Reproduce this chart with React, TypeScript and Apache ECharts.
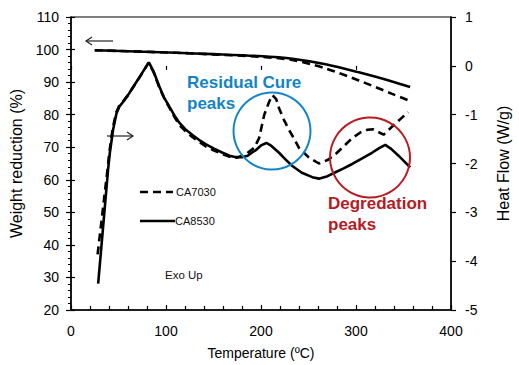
import React, { useEffect, useRef } from "react";
import * as echarts from "echarts";

const FONT = '"Liberation Sans", Arial, sans-serif';

// Weight curves (left axis): [temperature °C, weight %]
const ca8530Weight: [number, number][] = [
  [25, 99.8], [60, 99.5], [111, 99.0], [150, 98.6], [198, 98.0], [233, 97.2],
  [268, 95.5], [303, 93.0], [338, 90.2], [357, 88.5],
];
const ca7030Weight: [number, number][] = [
  [25, 99.8], [111, 99.0], [150, 98.5], [198, 97.8], [233, 96.8], [268, 94.2],
  [303, 90.5], [338, 86.4], [355, 84.4],
];

// Heat flow curves (right axis): [temperature °C, W/g]
const ca8530HeatFlow: [number, number][] = [
  [28.6, -4.46], [39.1, -2.11], [40.9, -1.78], [44.3, -1.31], [47.9, -0.97], [51, -0.83],
  [54.8, -0.74], [60, -0.6], [65.3, -0.44], [74.1, -0.17], [82, 0.07], [87, -0.12],
  [93.3, -0.44], [98, -0.65], [103.7, -0.84], [109, -1.02], [114.2, -1.17], [121, -1.31],
  [128.2, -1.42], [135, -1.52], [142.2, -1.61], [150, -1.69], [159.6, -1.78], [167, -1.84],
  [173.6, -1.87], [180, -1.87], [186, -1.84], [191, -1.77], [195, -1.72], [200, -1.63],
  [205.7, -1.58], [211, -1.64], [219, -1.78], [226, -1.92], [233, -2.05], [243, -2.19],
  [254, -2.28], [261, -2.31], [270, -2.26], [278.4, -2.18], [287, -2.1], [296, -2.01],
  [306, -1.9], [316.8, -1.78], [324, -1.69], [330.8, -1.62], [337, -1.7], [344.8, -1.84],
  [351, -1.96], [357, -2.08],
];
const ca7030HeatFlow: [number, number][] = [
  [28, -3.86], [38.5, -2.11], [40.3, -1.78], [43.7, -1.31], [47.3, -0.97], [50.5, -0.83],
  [54.3, -0.74], [60, -0.6], [65, -0.45], [74, -0.18], [81.5, 0.06], [87, -0.13],
  [93, -0.45], [98, -0.66], [103.7, -0.86], [109, -1.05], [114, -1.21], [121, -1.35],
  [128, -1.46], [135, -1.56], [142, -1.65], [150, -1.73], [159.6, -1.81], [167, -1.86],
  [175, -1.88], [184, -1.81], [192.8, -1.68], [198, -1.48], [203.3, -1.01], [208.5, -0.74],
  [212, -0.6], [216, -0.68], [219, -0.87], [224, -1.1], [229.5, -1.31], [235, -1.5],
  [240, -1.68], [250.5, -1.88], [261, -2.0], [270, -1.93], [278.4, -1.81], [287, -1.65],
  [296, -1.48], [305, -1.36], [312, -1.31], [318, -1.3], [323, -1.35], [329, -1.41],
  [335, -1.3], [342, -1.17], [349, -1.05], [355, -0.95],
];

const seriesNames = ["CA7030", "CA8530"];
const annotationTexts = ["Residual Cure", "peaks", "Degredation", "peaks", "Exo Up"];

const BLUE = "#1484c8";
const RED = "#b81a1f";

export default function App() {
  const ref = useRef<HTMLDivElement>(null);

  useEffect(() => {
    if (!ref.current) return;
    const chart = echarts.init(ref.current, null, { renderer: "svg" });
    const labelStyle = { color: "#000", fontSize: 14, fontFamily: FONT };
    const option: any = {
      animation: false,
      backgroundColor: "#fff",
      grid: {
        left: 71, right: 66, top: 17, bottom: 50,
        show: true, borderColor: "#000", borderWidth: 1.2, backgroundColor: "transparent",
      },
      xAxis: [
        {
          type: "value", min: 0, max: 400, interval: 100, position: "bottom",
          axisLine: { show: true, onZero: false, lineStyle: { color: "#000", width: 1.5 } },
          axisTick: { show: true, inside: true, length: 5, lineStyle: { color: "#000", width: 1.2 } },
          minorTick: { show: true, splitNumber: 5, length: 4, lineStyle: { color: "#000", width: 1.2 } },
          splitLine: { show: false },
          axisLabel: { ...labelStyle, margin: 14 },
          name: "Temperature (ºC)", nameLocation: "middle", nameGap: 36,
          nameTextStyle: { color: "#000", fontSize: 14, fontFamily: FONT },
        },
        {
          type: "value", min: 0, max: 400, interval: 100, position: "bottom",
          axisLine: { show: false },
          axisTick: { show: true, inside: false, length: 4, lineStyle: { color: "#000", width: 1.2 } },
          axisLabel: { show: false }, splitLine: { show: false },
        },
      ],
      yAxis: [
        {
          type: "value", min: 20, max: 110, interval: 10, position: "left",
          axisLine: { show: true, onZero: false, lineStyle: { color: "#000", width: 1.5 } },
          axisTick: { show: true, inside: false, length: 5, lineStyle: { color: "#000", width: 1.2 } },
          minorTick: { show: true, splitNumber: 5, length: 3, lineStyle: { color: "#000", width: 1 } },
          splitLine: { show: false },
          axisLabel: { ...labelStyle, margin: 12 },
          name: "Weight reduction (%)", nameLocation: "middle", nameGap: 42,
          nameTextStyle: { color: "#000", fontSize: 16, fontFamily: FONT },
        },
        {
          type: "value", min: -5, max: 1, interval: 1, position: "right",
          axisLine: { show: true, onZero: false, lineStyle: { color: "#000", width: 1.5 } },
          axisTick: { show: true, inside: false, length: 5, lineStyle: { color: "#000", width: 1.2 } },
          splitLine: { show: false },
          axisLabel: { ...labelStyle, margin: 14 },
          name: "Heat Flow (W/g)", nameLocation: "middle", nameGap: 44,
          nameTextStyle: { color: "#000", fontSize: 16, fontFamily: FONT },
        },
        {
          type: "value", min: 20, max: 110, interval: 10, position: "left",
          axisLine: { show: false },
          axisTick: { show: true, inside: true, length: 4, lineStyle: { color: "#000", width: 1.2 } },
          axisLabel: { show: false }, splitLine: { show: false },
        },
      ],
      series: [
        {
          name: "CA8530 weight", type: "line", xAxisIndex: 0, yAxisIndex: 0, data: ca8530Weight,
          smooth: 0.3, showSymbol: false, lineStyle: { color: "#000", width: 2.6 }, z: 3,
        },
        {
          name: "CA7030 weight", type: "line", xAxisIndex: 0, yAxisIndex: 0, data: ca7030Weight,
          smooth: 0.3, showSymbol: false, lineStyle: { color: "#000", width: 2.6, type: [8, 5] }, z: 3,
        },
        {
          name: "CA8530 heat flow", type: "line", xAxisIndex: 0, yAxisIndex: 1, data: ca8530HeatFlow,
          showSymbol: false, lineStyle: { color: "#000", width: 2.6 }, z: 3,
        },
        {
          name: "CA7030 heat flow", type: "line", xAxisIndex: 0, yAxisIndex: 1, data: ca7030HeatFlow,
          showSymbol: false, lineStyle: { color: "#000", width: 2.6, type: [8, 5] }, z: 3,
        },
      ],
      graphic: [
        // arrows
        { type: "line", shape: { x1: 86, y1: 41, x2: 113, y2: 41 }, style: { stroke: "#222", lineWidth: 1.2 } },
        { type: "polyline", shape: { points: [[92, 37], [86, 41], [92, 45]] }, style: { stroke: "#222", lineWidth: 1.2, fill: "none" } },
        { type: "line", shape: { x1: 107, y1: 136, x2: 133, y2: 136 }, style: { stroke: "#222", lineWidth: 1.2 } },
        { type: "polyline", shape: { points: [[127, 132], [133, 136], [127, 140]] }, style: { stroke: "#222", lineWidth: 1.2, fill: "none" } },
        // circles
        { type: "circle", shape: { cx: 272, cy: 131, r: 38.5 }, style: { stroke: BLUE, lineWidth: 2, fill: "none" }, z: 10 },
        { type: "circle", shape: { cx: 370, cy: 157.5, r: 40 }, style: { stroke: RED, lineWidth: 2, fill: "none" }, z: 10 },
        // annotation texts
        { type: "text", x: 187, y: 82, style: { text: annotationTexts[0], fill: BLUE, font: `bold 17px ${FONT}`, textAlign: "left", textVerticalAlign: "middle", verticalAlign: "middle" }, z: 10 },
        { type: "text", x: 187, y: 103, style: { text: annotationTexts[1], fill: BLUE, font: `bold 17px ${FONT}`, textAlign: "left", textVerticalAlign: "middle", verticalAlign: "middle" }, z: 10 },
        { type: "text", x: 328, y: 203, style: { text: annotationTexts[2], fill: RED, font: `bold 17px ${FONT}`, textAlign: "left", textVerticalAlign: "middle", verticalAlign: "middle" }, z: 10 },
        { type: "text", x: 328, y: 224, style: { text: annotationTexts[3], fill: RED, font: `bold 17px ${FONT}`, textAlign: "left", textVerticalAlign: "middle", verticalAlign: "middle" }, z: 10 },
        { type: "text", x: 165, y: 275, style: { text: annotationTexts[4], fill: "#111", font: `11.5px ${FONT}`, textAlign: "left", textVerticalAlign: "middle", verticalAlign: "middle" }, z: 10 },
        // legend
        { type: "line", shape: { x1: 140, y1: 192, x2: 173, y2: 192 }, style: { stroke: "#000", lineWidth: 2.6, lineDash: [8, 5] } },
        { type: "text", x: 176, y: 192, style: { text: seriesNames[0], fill: "#111", font: `11px ${FONT}`, textAlign: "left", textVerticalAlign: "middle", verticalAlign: "middle" } },
        { type: "line", shape: { x1: 140, y1: 221, x2: 175, y2: 221 }, style: { stroke: "#000", lineWidth: 2.6 } },
        { type: "text", x: 175, y: 221, style: { text: seriesNames[1], fill: "#111", font: `11px ${FONT}`, textAlign: "left", textVerticalAlign: "middle", verticalAlign: "middle" } },
      ],
    };
    chart.setOption(option);
    return () => chart.dispose();
  }, []);

  return (
    <div
      ref={ref}
      style={{ position: "absolute", left: 0, top: 0, width: 519, height: 365, background: "#fff" }}
    />
  );
}
